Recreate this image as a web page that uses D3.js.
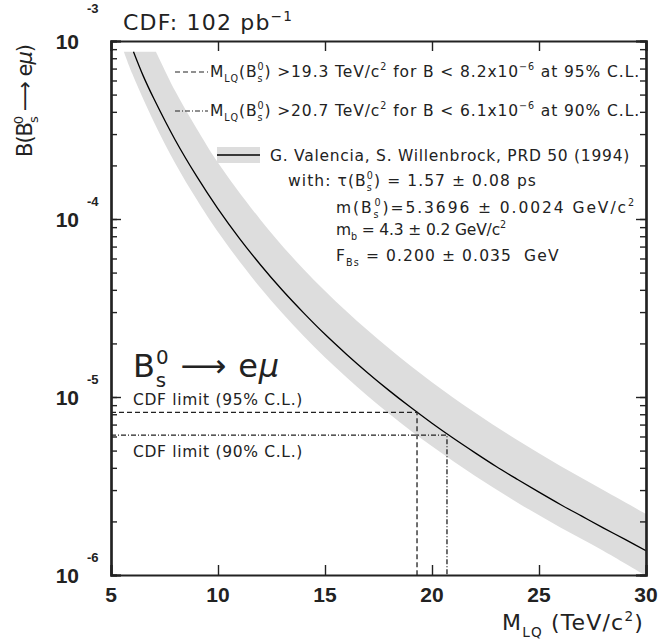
<!DOCTYPE html>
<html>
<head>
<meta charset="utf-8">
<script src="https://cdn.jsdelivr.net/npm/d3@7"></script>
<style>
body { margin: 0; background: #fff; }
text { white-space: pre; }
</style>
</head>
<body>
<svg width="659" height="640"></svg>
<script>
// central prediction (Valencia & Willenbrock)
var centralMass = [6.05, 6.5, 7, 8, 9, 10, 11, 12, 13, 14, 15, 16, 17, 18, 19, 20, 21, 22, 23, 24, 25, 26, 27, 28, 29, 30];
var centralB = [8.7e-4, 6.39e-4, 4.75e-4, 2.78e-4, 1.74e-4, 1.14e-4, 7.79e-5, 5.50e-5, 3.99e-5, 2.97e-5, 2.25e-5, 1.74e-5, 1.365e-5,
                1.086e-5, 8.75e-6, 7.12e-6, 5.86e-6, 4.87e-6, 4.07e-6, 3.44e-6, 2.92e-6, 2.49e-6, 2.14e-6, 1.84e-6, 1.59e-6, 1.37e-6];

// uncertainty band edges
var upperMass = [7.1, 8, 9, 10, 12, 14, 16, 18, 20, 22, 24, 26, 28, 30];
var upperB = [8.7e-4, 5.23e-4, 3.22e-4, 2.07e-4, 9.85e-5, 5.22e-5, 3.03e-5, 1.87e-5, 1.21e-5, 8.18e-6, 5.71e-6, 4.09e-6, 3.0e-6, 2.2e-6];
var lowerMass = [5.6, 6, 7, 8, 9, 10, 12, 14, 16, 18, 20, 22, 24, 26, 28, 30];
var lowerB = [8.7e-4, 6.52e-4, 3.52e-4, 2.06e-4, 1.29e-4, 8.45e-5, 4.08e-5, 2.20e-5, 1.29e-5, 8.05e-6, 5.28e-6, 3.61e-6, 2.55e-6, 1.85e-6, 1.37e-6, 0.99e-6];

// CDF limits
var limitCL = ['95%', '90%'];
var limitMass = [19.3, 20.7];
var limitB = [8.2e-6, 6.1e-6];

var xTicks = [5, 10, 15, 20, 25, 30];
var yDecades = [-6, -5, -4, -3];

var svg = d3.select('svg');
var ink = '#222';
var textFont = '"DejaVu Sans", sans-serif';
var numFont = '"Liberation Sans", Arial, sans-serif';

var x = d3.scaleLinear().domain([5, 30]).range([111, 646]);
var y = d3.scaleLog().domain([1e-6, 1e-3]).range([575, 41]);

// text with sub/superscripts: parts = [text, kind(0 normal,1 sub,2 sup), dx]
function rich(sel, parts, size) {
    var shift = 0;
    parts.forEach(function(p) {
        var target = p[1] === 1 ? size * 0.3 : (p[1] === 2 ? -size * 0.42 : 0);
        var t = sel.append('tspan').attr('dy', target - shift).text(p[0]);
        if (p[1]) t.attr('font-size', size * 0.62);
        if (p[2]) t.attr('dx', p[2]);
        shift = target;
    });
    return sel;
}

// stretch a text to the width it has in the original
function fit(t, target) {
    var w = t.node().getBBox().width;
    t.attr('letter-spacing', (target - w) / t.text().length);
}

function note(xp, yp, size) {
    return svg.append('text').attr('x', xp).attr('y', yp)
        .attr('font-family', textFont).attr('font-size', size).attr('fill', ink);
}

svg.append('clipPath').attr('id', 'plot')
    .append('rect')
    .attr('x', x.range()[0]).attr('y', y.range()[1])
    .attr('width', x.range()[1] - x.range()[0])
    .attr('height', y.range()[0] - y.range()[1]);

var plot = svg.append('g').attr('clip-path', 'url(#plot)');
var edge = d3.line().x(function(d) { return x(d[0]); }).y(function(d) { return y(d[1]); }).curve(d3.curveCatmullRom);

// band
var upPts = upperMass.map(function(m, i) { return [m, upperB[i]]; });
var loPts = lowerMass.map(function(m, i) { return [m, lowerB[i]]; }).reverse();
plot.append('path')
    .attr('d', edge(upPts) + 'L' + edge(loPts).slice(1) + 'Z')
    .attr('fill', '#dddddd');

// central curve
plot.append('path')
    .attr('d', edge(centralMass.map(function(m, i) { return [m, centralB[i]]; })))
    .attr('fill', 'none').attr('stroke', '#000').attr('stroke-width', 1.3);

// limit lines
var dashes = ['5,3', '5,2,1,2'];
limitMass.forEach(function(m, i) {
    plot.append('path')
        .attr('d', 'M' + x(5) + ',' + y(limitB[i]) + 'H' + x(m) + 'V' + y(1e-6))
        .attr('fill', 'none').attr('stroke', ink).attr('stroke-width', 1.3)
        .attr('stroke-dasharray', dashes[i]);
});

// axes with inward ticks
var minorTicks = y.ticks();
var decadeVals = yDecades.map(function(d) { return Math.pow(10, d); });
svg.append('g').attr('transform', 'translate(' + x(5) + ',0)')
    .call(d3.axisLeft(y).tickValues(minorTicks).tickSize(-6).tickFormat(''));
svg.append('g').attr('transform', 'translate(' + x(30) + ',0)')
    .call(d3.axisRight(y).tickValues(minorTicks).tickSize(-6).tickFormat(''));
svg.append('g').attr('transform', 'translate(' + x(5) + ',0)')
    .call(d3.axisLeft(y).tickValues(decadeVals).tickSize(-10).tickFormat(''));
svg.append('g').attr('transform', 'translate(' + x(30) + ',0)')
    .call(d3.axisRight(y).tickValues(decadeVals).tickSize(-10).tickFormat(''));
svg.append('g').attr('transform', 'translate(0,' + y(1e-6) + ')')
    .call(d3.axisBottom(x).tickValues(xTicks).tickSize(-10).tickFormat(''));
svg.append('g').attr('transform', 'translate(0,' + y(1e-3) + ')')
    .call(d3.axisTop(x).tickValues(xTicks).tickSize(-10).tickFormat(''));
svg.selectAll('.domain').attr('stroke', ink).attr('stroke-width', 2.2);
svg.selectAll('.tick line').attr('stroke', ink).attr('stroke-width', 1.4);

// tick labels
svg.selectAll('.xlab').data(xTicks).enter().append('text')
    .attr('x', function(d) { return x(d); }).attr('y', 602)
    .attr('text-anchor', 'middle').attr('font-family', numFont).attr('font-weight', 'bold')
    .attr('font-size', 21).attr('fill', ink).text(function(d) { return d; });

yDecades.forEach(function(d, i) {
    var yy = y(Math.pow(10, d));
    svg.append('text').attr('x', 79).attr('y', yy + 8)
        .attr('text-anchor', 'end').attr('font-family', numFont).attr('font-weight', 'bold')
        .attr('font-size', 21).attr('fill', ink).text('10');
    svg.append('text').attr('x', 87).attr('y', i === yDecades.length - 1 ? 13 : yy - 13)
        .attr('font-family', numFont).attr('font-weight', 'bold')
        .attr('font-size', 13).attr('fill', ink).text(d);
});

// axis titles
var xt = rich(note(502, 630, 22), [['M', 0], ['LQ', 1], [' (TeV/c', 0], ['2', 2], [')', 0]], 22);
fit(xt, 142);

var yt = svg.append('text').attr('transform', 'translate(32,157) rotate(-90)')
    .attr('font-family', textFont).attr('font-size', 21).attr('fill', ink);
rich(yt, [['B(B', 0], ['s', 1], ['0', 2, -7], [' \u27f6 e', 0], ['\u03bc', 0], [')', 0]], 21);
yt.selectAll('tspan').filter(function() { return this.textContent === '\u03bc'; }).attr('font-style', 'italic');
fit(yt, 112);

// title
fit(rich(note(123, 30, 22), [['CDF: 102 pb', 0], ['\u22121', 2]], 22), 170);

// legend for limits
var legY = [72, 111];
var legTxt = [
    [['M', 0], ['LQ', 1], ['(B', 0], ['s', 1], ['0', 2, -6], [') >19.3 TeV/c', 0], ['2', 2], [' for B < 8.2x10', 0], ['\u22126', 2], [' at 95% C.L.', 0]],
    [['M', 0], ['LQ', 1], ['(B', 0], ['s', 1], ['0', 2, -6], [') >20.7 TeV/c', 0], ['2', 2], [' for B < 6.1x10', 0], ['\u22126', 2], [' at 90% C.L.', 0]]
];
legY.forEach(function(ly, i) {
    svg.append('line').attr('x1', 175).attr('x2', 208).attr('y1', ly).attr('y2', ly)
        .attr('stroke', ink).attr('stroke-width', 1.2).attr('stroke-dasharray', dashes[i]);
    fit(rich(note(210, ly + 5, 15.5), legTxt[i], 15.5), 430);
});

// legend for theory band
svg.append('rect').attr('x', 217).attr('y', 147).attr('width', 43).attr('height', 16).attr('fill', '#dddddd');
svg.append('line').attr('x1', 217).attr('x2', 260).attr('y1', 155).attr('y2', 155)
    .attr('stroke', '#000').attr('stroke-width', 1.3);
fit(note(270, 161, 15.5).text('G. Valencia, S. Willenbrock, PRD 50 (1994)'), 360);

var params = [
    { x: 288, y: 186, w: 249, parts: [['with: \u03c4(B', 0], ['s', 1], ['0', 2, -6], [') = 1.57 \u00b1 0.08 ps', 0]] },
    { x: 336, y: 213, w: 300, parts: [['m(B', 0], ['s', 1], ['0', 2, -6], [')=5.3696 \u00b1 0.0024 GeV/c', 0], ['2', 2]] },
    { x: 336, y: 235, w: 170, parts: [['m', 0], ['b', 1], [' = 4.3 \u00b1 0.2 GeV/c', 0], ['2', 2]] },
    { x: 336, y: 261, w: 224, parts: [['F', 0], ['Bs', 1], [' = 0.200 \u00b1 0.035  GeV', 0]] }
];
params.forEach(function(p) {
    fit(rich(note(p.x, p.y, 15.5), p.parts, 15.5), p.w);
});

// process label
var pl = rich(note(133, 377, 32), [['B', 0], ['s', 1], ['0', 2, -11], [' \u27f6 e', 0], ['\u03bc', 0]], 32);
pl.selectAll('tspan').filter(function() { return this.textContent === '\u03bc'; }).attr('font-style', 'italic');
fit(pl, 147);

// limit labels
limitCL.forEach(function(cl, i) {
    fit(note(133, i === 0 ? 405 : 457, 15.5).text('CDF limit (' + cl + ' C.L.)'), 170);
});
</script>
</body>
</html>
